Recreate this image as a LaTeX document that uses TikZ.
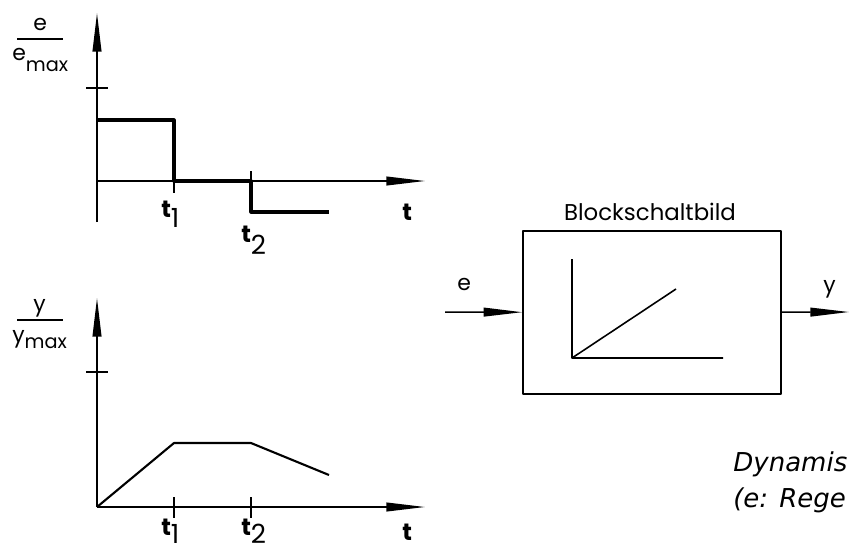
\documentclass[tikz,border=0pt]{standalone}
\usepackage{fontspec}
\setmainfont{Poppins}
\newfontfamily\notefont{DejaVu Sans}
\usetikzlibrary{arrows.meta,positioning}
\newcommand\tlab[2]{\textbf{t}\raisebox{-#2}{\fontsize{15}{15}\selectfont #1}}

\begin{document}
\begin{tikzpicture}[x=0.02cm,y=-0.02cm,line join=round,>={Triangle[length=22pt,width=5pt]}]
\tikzset{achse/.style={line width=0.85pt},
  kurve/.style={line width=1.8pt},
  lbl/.style={inner sep=0pt,anchor=base west,font=\fontsize{12.5}{13}\selectfont},
  tl/.style={inner sep=0pt,anchor=base west,font=\fontsize{13.5}{14}\selectfont}}
\useasboundingbox (0,0) rectangle (849,552);
% e/emax
\draw[achse,->] (97,222)--(97,13);
\draw[achse,->] (97,181)--(425,181);
\draw[achse] (86,88)--(108,88) (174,181)--(174,193) (251,171)--(251,212);
\draw[kurve] (97,120)--(174,120)--(174,181)--(251,181)--(251,212)--(329,212);
\node[lbl] (e1) at (33,30) {e};
\draw[achse] (17,39)--(63,39);
\node[lbl] (e2) at (12,60) {e\raisebox{-6.5pt}{\fontsize{11}{11}\selectfont max}};
\node[tl] (ta1) at (161,217) {\tlab{1}{6pt}};
\node[tl] (ta2) at (241,242) {\tlab{2}{7pt}};
\node[tl] (ta) at (402,220) {\textbf{t}};
% y/ymax
\draw[achse,->] (97,507)--(97,298);
\draw[achse,->] (97,507)--(425,507);
\draw[achse] (86,372)--(108,372);
\foreach \x in {174,251}
\draw[achse] (\x,497)--(\x,518);
\draw[line width=1.2pt] (97,507)--(174,443)--(251,443)--(329,475);
\node[lbl] (y1) at (33,311) {y};
\draw[achse] (17,320)--(63,320);
\node[lbl] (y2) at (12,342) {y\raisebox{-3.5pt}{\fontsize{11}{11}\selectfont max}};
\node[tl] (tb1) at (161,535) {\tlab{1}{5pt}};
\node[tl] (tb2) at (241,535) {\tlab{2}{5pt}};
\node[tl] (tb) at (402,540) {\textbf{t}};
% Block
\node[draw,line width=0.9pt,minimum width=5.16cm,minimum height=3.26cm] (blk) at (652,312.5) {};
\node[inner sep=0pt,font=\fontsize{13}{14}\selectfont] (titel) at (650,212) {Blockschaltbild};
\coordinate (ein) at (445,312);
\coordinate (aus) at (849,312);
\draw[achse,->] (ein)--(blk);
\draw[achse,->] (blk)--(aus);
\node[lbl] (ein-l) at (457,290) {e};
\node[lbl] (aus-l) at (823,292) {y};
\draw[line width=0.9pt] (572,259)--(572,358)--(723,358) (572,358)--(676,289);
% Text
\node[anchor=base west,inner sep=0pt,align=left,font=\notefont\itshape\fontsize{14.8}{20.4}\selectfont] (txt) at (733,507) {Dynamis\\(e: Rege};
\end{tikzpicture}
\end{document}
